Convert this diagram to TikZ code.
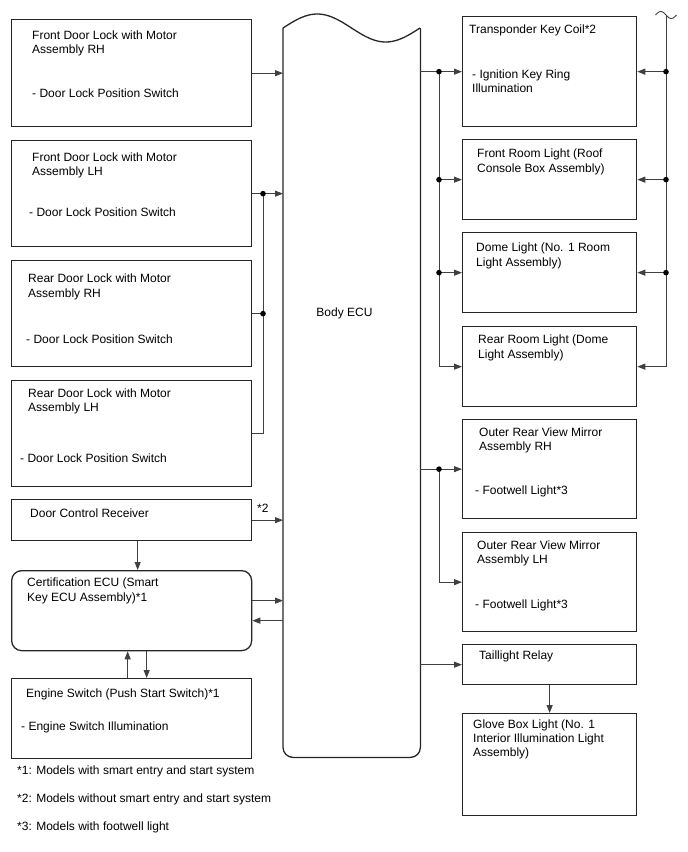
\documentclass[tikz,border=0pt]{standalone}
\usepackage{fontspec}
\setmainfont{Liberation Sans}
\usetikzlibrary{arrows.meta,calc}
\tikzset{
  boxline/.style={draw=black!85, line width=1.3pt},
  box/.style={boxline, rectangle, inner sep=0pt, anchor=north west},
  txt/.style={inner sep=0pt, anchor=base west, font=\fontsize{12}{14}\selectfont},
  wire/.style={draw=black!75, line width=0.9pt},
  arr/.style={wire, -{Triangle[length=8pt,width=6pt]}},
  jdot/.style={fill=black}
}
\begin{document}
\begin{tikzpicture}[x=1pt,y=-1pt]
\useasboundingbox (0,0) rectangle (688,852);
% left column boxes
\node[box, minimum width=240pt, minimum height=107pt] (b1) at (11,19) {};
\node[box, minimum width=240pt, minimum height=106pt] (b2) at (11,140) {};
\node[box, minimum width=240pt, minimum height=106pt] (b3) at (11,260) {};
\node[box, minimum width=240pt, minimum height=106pt] (b4) at (11,380) {};
\node[box, minimum width=240pt, minimum height=41pt] (dcr) at (11,499) {};
\node[box, rounded corners=10pt, minimum width=240pt, minimum height=80pt] (cert) at (11,570) {};
\node[box, minimum width=240pt, minimum height=80pt] (eng) at (11,678) {};
% texts left
\node[txt] (b1a) at (32,39.5) {Front Door Lock with Motor};
\node[txt] (b1b) at (32,53.5) {Assembly RH};
\node[txt] (b1c) at (32,97.5) {- Door Lock Position Switch};
\node[txt] (b2a) at (32,161.5) {Front Door Lock with Motor};
\node[txt] (b2b) at (32,175.5) {Assembly LH};
\node[txt] (b2c) at (29,216.5) {- Door Lock Position Switch};
\node[txt] (b3a) at (28,282.5) {Rear Door Lock with Motor};
\node[txt] (b3b) at (28,297) {Assembly RH};
\node[txt] (b3c) at (26,343.5) {- Door Lock Position Switch};
\node[txt] (b4a) at (28,397.5) {Rear Door Lock with Motor};
\node[txt] (b4b) at (28,411.5) {Assembly LH};
\node[txt] (b4c) at (20,462.5) {- Door Lock Position Switch};
\node[txt] (dcrt) at (30,517.5) {Door Control Receiver};
\node[txt] (certa) at (27,586.5) {Certification ECU (Smart};
\node[txt] (certb) at (27,601.5) {Key ECU Assembly)*1};
\node[txt] (enga) at (26,697.5) {Engine Switch (Push Start Switch)*1};
\node[txt] (engb) at (21,730.5) {- Engine Switch Illumination};
\node[txt] (fn1) at (17,774.5) {*1: Models with smart entry and start system};
\node[txt] (fn2) at (17,802.5) {*2: Models without smart entry and start system};
\node[txt] (fn3) at (17,830.5) {*3: Models with footwell light};
% Body ECU
\node[inner sep=0pt, minimum width=137pt, minimum height=729pt, anchor=north west] (ecu) at (283,28) {};
\draw[boxline] (ecu.north west) [rounded corners=10pt] -- (ecu.south west) -- (ecu.south east) [sharp corners] -- (ecu.north east);
\draw[boxline] plot[domain=0:137, samples=60, smooth] ({283+\x},{28-14*sin(2.6277*\x)});
\node[txt, anchor=base] (ecut) at (344.5,316.5) {Body ECU};
% right column boxes
\node[box, minimum width=174pt, minimum height=110pt] (tr) at (462,16) {};
\node[box, minimum width=174pt, minimum height=80pt] (fr) at (462,139) {};
\node[box, minimum width=174pt, minimum height=80pt] (dome) at (462,232) {};
\node[box, minimum width=174pt, minimum height=80pt] (rear) at (462,326) {};
\node[box, minimum width=174pt, minimum height=99pt] (orh) at (462,419) {};
\node[box, minimum width=174pt, minimum height=99pt] (olh) at (462,532) {};
\node[box, minimum width=174pt, minimum height=40pt] (tail) at (462,644) {};
\node[box, minimum width=174pt, minimum height=102pt] (glove) at (462,713) {};
% texts right
\node[txt] (tra) at (469,33) {Transponder Key Coil*2};
\node[txt] (trb) at (472,78) {- Ignition Key Ring};
\node[txt] (trc) at (472,92) {Illumination};
\node[txt] (fra) at (477,157.5) {Front Room Light (Roof};
\node[txt] (frb) at (477,172) {Console Box Assembly)};
\node[txt] (domea) at (476,251.5) {Dome Light (No. 1 Room};
\node[txt] (domeb) at (476,266) {Light Assembly)};
\node[txt] (reara) at (478,343.5) {Rear Room Light (Dome};
\node[txt] (rearb) at (478,358) {Light Assembly)};
\node[txt] (orha) at (479,436.5) {Outer Rear View Mirror};
\node[txt] (orhb) at (479,450.5) {Assembly RH};
\node[txt] (orhc) at (475,494.5) {- Footwell Light*3};
\node[txt] (olha) at (477,549) {Outer Rear View Mirror};
\node[txt] (olhb) at (477,563.5) {Assembly LH};
\node[txt] (olhc) at (475,608.5) {- Footwell Light*3};
\node[txt] (tailt) at (479,659.5) {Taillight Relay};
\node[txt] (glovea) at (473,728.5) {Glove Box Light (No. 1};
\node[txt] (gloveb) at (473,742.5) {Interior Illumination Light};
\node[txt] (glovec) at (473,756.5) {Assembly)};
% left connectors
\coordinate (jx) at (263,0);
\draw[arr] (b1.east) -- (b1.east -| ecu.west);
\draw[wire] (b2.east) -- (jx |- b2.east);
\draw[arr] (jx |- b2.east) -- (b2.east -| ecu.west);
\draw[wire] (b3.east) -- (jx |- b3.east);
\draw[wire] (b4.east) -| (jx |- b2.east);
\fill[jdot] (jx |- b2.east) circle (2.8pt);
\fill[jdot] (jx |- b3.east) circle (2.8pt);
\draw[arr] (dcr.east) -- (dcr.east -| ecu.west);
\node[txt] (star2) at (257,512) {*2};
\draw[arr] ([xshift=6pt]dcr.south) -- ([xshift=6pt]dcr.south |- cert.north);
\draw[arr] ([yshift=10pt]cert.east) -- ([yshift=10pt]cert.east -| ecu.west);
\draw[arr] ([yshift=-10pt]cert.east -| ecu.west) -- ([yshift=-10pt]cert.east);
\draw[arr] ([xshift=-4pt]eng.north) -- ([xshift=-4pt]eng.north |- cert.south);
\draw[arr] ([xshift=15pt]cert.south) -- ([xshift=15pt]cert.south |- eng.north);
% right connectors (from ECU)
\coordinate (kx) at (439,0);
\draw[arr] (ecu.east |- tr.west) -- (tr.west);
\draw[wire] (kx |- tr.west) -- (kx |- rear.west);
\draw[arr] (kx |- fr.west) -- (fr.west);
\draw[arr] (kx |- dome.west) -- (dome.west);
\draw[arr] (kx |- rear.west) -- (rear.west);
\fill[jdot] (kx |- tr.west) circle (2.8pt);
\fill[jdot] (kx |- fr.west) circle (2.8pt);
\fill[jdot] (kx |- dome.west) circle (2.8pt);
\draw[arr] (ecu.east |- orh.west) -- (orh.west);
\draw[wire] (kx |- orh.west) -- (kx |- olh.west);
\draw[arr] (kx |- olh.west) -- (olh.west);
\fill[jdot] (kx |- orh.west) circle (2.8pt);
\draw[arr] (ecu.east |- tail.west) -- (tail.west);
\draw[arr] (tail.south) -- (glove.north);
% right rail
\coordinate (rx) at (666,0);
\coordinate (rtop) at (666,15);
\draw[wire] (rtop) -- (rx |- rear.east);
\draw[wire] plot[domain=0:21, samples=30, smooth] ({655.5+\x},{15-3.5*sin(17.143*\x)});
\draw[arr] (rx |- tr.east) -- (tr.east);
\draw[arr] (rx |- fr.east) -- (fr.east);
\draw[arr] (rx |- dome.east) -- (dome.east);
\draw[arr] (rx |- rear.east) -- (rear.east);
\fill[jdot] (rx |- tr.east) circle (2.8pt);
\fill[jdot] (rx |- fr.east) circle (2.8pt);
\fill[jdot] (rx |- dome.east) circle (2.8pt);
\end{tikzpicture}
\end{document}
